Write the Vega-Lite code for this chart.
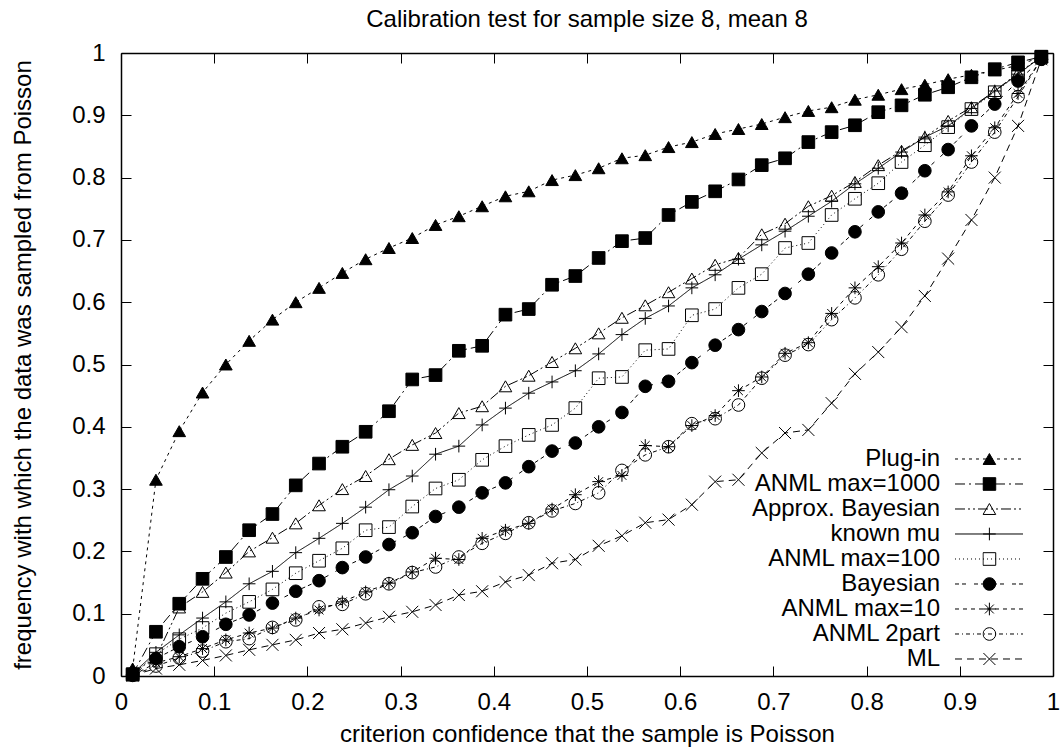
{
"$schema": "https://vega.github.io/schema/vega-lite/v6.json",
"width": 932, "height": 623,
"autosize": {"type": "none"},
"padding": {"left": 121, "top": 53, "right": 8, "bottom": 76},
"background": "white",
"title": {"text": "Calibration test for sample size 8, mean 8", "offset": 9, "frame": "group", "anchor": "middle", "fontSize": 24, "fontWeight": "normal", "font": "Liberation Sans", "color": "black"},
"config": {"view": {"stroke": null}, "font": "Liberation Sans"},
"data": {"values": [
{"series":"Plug-in","confidence":0.0125,"frequency":0.012},{"series":"Plug-in","confidence":0.0375,"frequency":0.315},{"series":"Plug-in","confidence":0.0625,"frequency":0.393},{"series":"Plug-in","confidence":0.0875,"frequency":0.455},{"series":"Plug-in","confidence":0.1125,"frequency":0.5},{"series":"Plug-in","confidence":0.1375,"frequency":0.538},{"series":"Plug-in","confidence":0.1625,"frequency":0.572},{"series":"Plug-in","confidence":0.1875,"frequency":0.6},{"series":"Plug-in","confidence":0.2125,"frequency":0.623},{"series":"Plug-in","confidence":0.2375,"frequency":0.647},{"series":"Plug-in","confidence":0.2625,"frequency":0.669},{"series":"Plug-in","confidence":0.2875,"frequency":0.687},{"series":"Plug-in","confidence":0.3125,"frequency":0.703},{"series":"Plug-in","confidence":0.3375,"frequency":0.724},{"series":"Plug-in","confidence":0.3625,"frequency":0.738},{"series":"Plug-in","confidence":0.3875,"frequency":0.754},{"series":"Plug-in","confidence":0.4125,"frequency":0.77},{"series":"Plug-in","confidence":0.4375,"frequency":0.778},{"series":"Plug-in","confidence":0.4625,"frequency":0.796},{"series":"Plug-in","confidence":0.4875,"frequency":0.804},{"series":"Plug-in","confidence":0.5125,"frequency":0.815},{"series":"Plug-in","confidence":0.5375,"frequency":0.831},{"series":"Plug-in","confidence":0.5625,"frequency":0.836},{"series":"Plug-in","confidence":0.5875,"frequency":0.849},{"series":"Plug-in","confidence":0.6125,"frequency":0.857},{"series":"Plug-in","confidence":0.6375,"frequency":0.87},{"series":"Plug-in","confidence":0.6625,"frequency":0.878},{"series":"Plug-in","confidence":0.6875,"frequency":0.886},{"series":"Plug-in","confidence":0.7125,"frequency":0.897},{"series":"Plug-in","confidence":0.7375,"frequency":0.907},{"series":"Plug-in","confidence":0.7625,"frequency":0.913},{"series":"Plug-in","confidence":0.7875,"frequency":0.925},{"series":"Plug-in","confidence":0.8125,"frequency":0.933},{"series":"Plug-in","confidence":0.8375,"frequency":0.942},{"series":"Plug-in","confidence":0.8625,"frequency":0.949},{"series":"Plug-in","confidence":0.8875,"frequency":0.958},{"series":"Plug-in","confidence":0.9125,"frequency":0.965},{"series":"Plug-in","confidence":0.9375,"frequency":0.972},{"series":"Plug-in","confidence":0.9625,"frequency":0.98},{"series":"Plug-in","confidence":0.9875,"frequency":0.994},
{"series":"ANML max=1000","confidence":0.0125,"frequency":0.003},{"series":"ANML max=1000","confidence":0.0375,"frequency":0.071},{"series":"ANML max=1000","confidence":0.0625,"frequency":0.116},{"series":"ANML max=1000","confidence":0.0875,"frequency":0.156},{"series":"ANML max=1000","confidence":0.1125,"frequency":0.191},{"series":"ANML max=1000","confidence":0.1375,"frequency":0.234},{"series":"ANML max=1000","confidence":0.1625,"frequency":0.26},{"series":"ANML max=1000","confidence":0.1875,"frequency":0.306},{"series":"ANML max=1000","confidence":0.2125,"frequency":0.341},{"series":"ANML max=1000","confidence":0.2375,"frequency":0.368},{"series":"ANML max=1000","confidence":0.2625,"frequency":0.392},{"series":"ANML max=1000","confidence":0.2875,"frequency":0.425},{"series":"ANML max=1000","confidence":0.3125,"frequency":0.476},{"series":"ANML max=1000","confidence":0.3375,"frequency":0.483},{"series":"ANML max=1000","confidence":0.3625,"frequency":0.522},{"series":"ANML max=1000","confidence":0.3875,"frequency":0.53},{"series":"ANML max=1000","confidence":0.4125,"frequency":0.58},{"series":"ANML max=1000","confidence":0.4375,"frequency":0.589},{"series":"ANML max=1000","confidence":0.4625,"frequency":0.628},{"series":"ANML max=1000","confidence":0.4875,"frequency":0.642},{"series":"ANML max=1000","confidence":0.5125,"frequency":0.671},{"series":"ANML max=1000","confidence":0.5375,"frequency":0.698},{"series":"ANML max=1000","confidence":0.5625,"frequency":0.703},{"series":"ANML max=1000","confidence":0.5875,"frequency":0.74},{"series":"ANML max=1000","confidence":0.6125,"frequency":0.761},{"series":"ANML max=1000","confidence":0.6375,"frequency":0.778},{"series":"ANML max=1000","confidence":0.6625,"frequency":0.797},{"series":"ANML max=1000","confidence":0.6875,"frequency":0.82},{"series":"ANML max=1000","confidence":0.7125,"frequency":0.831},{"series":"ANML max=1000","confidence":0.7375,"frequency":0.857},{"series":"ANML max=1000","confidence":0.7625,"frequency":0.873},{"series":"ANML max=1000","confidence":0.7875,"frequency":0.884},{"series":"ANML max=1000","confidence":0.8125,"frequency":0.905},{"series":"ANML max=1000","confidence":0.8375,"frequency":0.916},{"series":"ANML max=1000","confidence":0.8625,"frequency":0.933},{"series":"ANML max=1000","confidence":0.8875,"frequency":0.945},{"series":"ANML max=1000","confidence":0.9125,"frequency":0.961},{"series":"ANML max=1000","confidence":0.9375,"frequency":0.974},{"series":"ANML max=1000","confidence":0.9625,"frequency":0.985},{"series":"ANML max=1000","confidence":0.9875,"frequency":0.994},
{"series":"Approx. Bayesian","confidence":0.0125,"frequency":0.005},{"series":"Approx. Bayesian","confidence":0.0375,"frequency":0.03},{"series":"Approx. Bayesian","confidence":0.0625,"frequency":0.11},{"series":"Approx. Bayesian","confidence":0.0875,"frequency":0.135},{"series":"Approx. Bayesian","confidence":0.1125,"frequency":0.166},{"series":"Approx. Bayesian","confidence":0.1375,"frequency":0.2},{"series":"Approx. Bayesian","confidence":0.1625,"frequency":0.222},{"series":"Approx. Bayesian","confidence":0.1875,"frequency":0.245},{"series":"Approx. Bayesian","confidence":0.2125,"frequency":0.274},{"series":"Approx. Bayesian","confidence":0.2375,"frequency":0.3},{"series":"Approx. Bayesian","confidence":0.2625,"frequency":0.321},{"series":"Approx. Bayesian","confidence":0.2875,"frequency":0.348},{"series":"Approx. Bayesian","confidence":0.3125,"frequency":0.371},{"series":"Approx. Bayesian","confidence":0.3375,"frequency":0.39},{"series":"Approx. Bayesian","confidence":0.3625,"frequency":0.422},{"series":"Approx. Bayesian","confidence":0.3875,"frequency":0.433},{"series":"Approx. Bayesian","confidence":0.4125,"frequency":0.465},{"series":"Approx. Bayesian","confidence":0.4375,"frequency":0.482},{"series":"Approx. Bayesian","confidence":0.4625,"frequency":0.504},{"series":"Approx. Bayesian","confidence":0.4875,"frequency":0.526},{"series":"Approx. Bayesian","confidence":0.5125,"frequency":0.55},{"series":"Approx. Bayesian","confidence":0.5375,"frequency":0.575},{"series":"Approx. Bayesian","confidence":0.5625,"frequency":0.595},{"series":"Approx. Bayesian","confidence":0.5875,"frequency":0.616},{"series":"Approx. Bayesian","confidence":0.6125,"frequency":0.638},{"series":"Approx. Bayesian","confidence":0.6375,"frequency":0.66},{"series":"Approx. Bayesian","confidence":0.6625,"frequency":0.671},{"series":"Approx. Bayesian","confidence":0.6875,"frequency":0.709},{"series":"Approx. Bayesian","confidence":0.7125,"frequency":0.726},{"series":"Approx. Bayesian","confidence":0.7375,"frequency":0.754},{"series":"Approx. Bayesian","confidence":0.7625,"frequency":0.771},{"series":"Approx. Bayesian","confidence":0.7875,"frequency":0.793},{"series":"Approx. Bayesian","confidence":0.8125,"frequency":0.82},{"series":"Approx. Bayesian","confidence":0.8375,"frequency":0.843},{"series":"Approx. Bayesian","confidence":0.8625,"frequency":0.865},{"series":"Approx. Bayesian","confidence":0.8875,"frequency":0.891},{"series":"Approx. Bayesian","confidence":0.9125,"frequency":0.913},{"series":"Approx. Bayesian","confidence":0.9375,"frequency":0.939},{"series":"Approx. Bayesian","confidence":0.9625,"frequency":0.968},{"series":"Approx. Bayesian","confidence":0.9875,"frequency":0.994},
{"series":"known mu","confidence":0.0125,"frequency":0.004},{"series":"known mu","confidence":0.0375,"frequency":0.038},{"series":"known mu","confidence":0.0625,"frequency":0.066},{"series":"known mu","confidence":0.0875,"frequency":0.093},{"series":"known mu","confidence":0.1125,"frequency":0.119},{"series":"known mu","confidence":0.1375,"frequency":0.148},{"series":"known mu","confidence":0.1625,"frequency":0.168},{"series":"known mu","confidence":0.1875,"frequency":0.198},{"series":"known mu","confidence":0.2125,"frequency":0.221},{"series":"known mu","confidence":0.2375,"frequency":0.245},{"series":"known mu","confidence":0.2625,"frequency":0.271},{"series":"known mu","confidence":0.2875,"frequency":0.299},{"series":"known mu","confidence":0.3125,"frequency":0.321},{"series":"known mu","confidence":0.3375,"frequency":0.356},{"series":"known mu","confidence":0.3625,"frequency":0.369},{"series":"known mu","confidence":0.3875,"frequency":0.403},{"series":"known mu","confidence":0.4125,"frequency":0.43},{"series":"known mu","confidence":0.4375,"frequency":0.454},{"series":"known mu","confidence":0.4625,"frequency":0.472},{"series":"known mu","confidence":0.4875,"frequency":0.49},{"series":"known mu","confidence":0.5125,"frequency":0.517},{"series":"known mu","confidence":0.5375,"frequency":0.548},{"series":"known mu","confidence":0.5625,"frequency":0.574},{"series":"known mu","confidence":0.5875,"frequency":0.594},{"series":"known mu","confidence":0.6125,"frequency":0.623},{"series":"known mu","confidence":0.6375,"frequency":0.644},{"series":"known mu","confidence":0.6625,"frequency":0.669},{"series":"known mu","confidence":0.6875,"frequency":0.692},{"series":"known mu","confidence":0.7125,"frequency":0.714},{"series":"known mu","confidence":0.7375,"frequency":0.738},{"series":"known mu","confidence":0.7625,"frequency":0.762},{"series":"known mu","confidence":0.7875,"frequency":0.79},{"series":"known mu","confidence":0.8125,"frequency":0.815},{"series":"known mu","confidence":0.8375,"frequency":0.841},{"series":"known mu","confidence":0.8625,"frequency":0.865},{"series":"known mu","confidence":0.8875,"frequency":0.883},{"series":"known mu","confidence":0.9125,"frequency":0.911},{"series":"known mu","confidence":0.9375,"frequency":0.939},{"series":"known mu","confidence":0.9625,"frequency":0.966},{"series":"known mu","confidence":0.9875,"frequency":0.994},
{"series":"ANML max=100","confidence":0.0125,"frequency":0.002},{"series":"ANML max=100","confidence":0.0375,"frequency":0.035},{"series":"ANML max=100","confidence":0.0625,"frequency":0.059},{"series":"ANML max=100","confidence":0.0875,"frequency":0.077},{"series":"ANML max=100","confidence":0.1125,"frequency":0.101},{"series":"ANML max=100","confidence":0.1375,"frequency":0.119},{"series":"ANML max=100","confidence":0.1625,"frequency":0.139},{"series":"ANML max=100","confidence":0.1875,"frequency":0.165},{"series":"ANML max=100","confidence":0.2125,"frequency":0.185},{"series":"ANML max=100","confidence":0.2375,"frequency":0.205},{"series":"ANML max=100","confidence":0.2625,"frequency":0.234},{"series":"ANML max=100","confidence":0.2875,"frequency":0.239},{"series":"ANML max=100","confidence":0.3125,"frequency":0.272},{"series":"ANML max=100","confidence":0.3375,"frequency":0.301},{"series":"ANML max=100","confidence":0.3625,"frequency":0.315},{"series":"ANML max=100","confidence":0.3875,"frequency":0.347},{"series":"ANML max=100","confidence":0.4125,"frequency":0.369},{"series":"ANML max=100","confidence":0.4375,"frequency":0.387},{"series":"ANML max=100","confidence":0.4625,"frequency":0.403},{"series":"ANML max=100","confidence":0.4875,"frequency":0.43},{"series":"ANML max=100","confidence":0.5125,"frequency":0.478},{"series":"ANML max=100","confidence":0.5375,"frequency":0.48},{"series":"ANML max=100","confidence":0.5625,"frequency":0.523},{"series":"ANML max=100","confidence":0.5875,"frequency":0.525},{"series":"ANML max=100","confidence":0.6125,"frequency":0.579},{"series":"ANML max=100","confidence":0.6375,"frequency":0.589},{"series":"ANML max=100","confidence":0.6625,"frequency":0.623},{"series":"ANML max=100","confidence":0.6875,"frequency":0.645},{"series":"ANML max=100","confidence":0.7125,"frequency":0.687},{"series":"ANML max=100","confidence":0.7375,"frequency":0.695},{"series":"ANML max=100","confidence":0.7625,"frequency":0.74},{"series":"ANML max=100","confidence":0.7875,"frequency":0.766},{"series":"ANML max=100","confidence":0.8125,"frequency":0.791},{"series":"ANML max=100","confidence":0.8375,"frequency":0.825},{"series":"ANML max=100","confidence":0.8625,"frequency":0.852},{"series":"ANML max=100","confidence":0.8875,"frequency":0.881},{"series":"ANML max=100","confidence":0.9125,"frequency":0.91},{"series":"ANML max=100","confidence":0.9375,"frequency":0.937},{"series":"ANML max=100","confidence":0.9625,"frequency":0.966},{"series":"ANML max=100","confidence":0.9875,"frequency":0.994},
{"series":"Bayesian","confidence":0.0125,"frequency":0.002},{"series":"Bayesian","confidence":0.0375,"frequency":0.028},{"series":"Bayesian","confidence":0.0625,"frequency":0.047},{"series":"Bayesian","confidence":0.0875,"frequency":0.063},{"series":"Bayesian","confidence":0.1125,"frequency":0.083},{"series":"Bayesian","confidence":0.1375,"frequency":0.098},{"series":"Bayesian","confidence":0.1625,"frequency":0.117},{"series":"Bayesian","confidence":0.1875,"frequency":0.136},{"series":"Bayesian","confidence":0.2125,"frequency":0.153},{"series":"Bayesian","confidence":0.2375,"frequency":0.174},{"series":"Bayesian","confidence":0.2625,"frequency":0.191},{"series":"Bayesian","confidence":0.2875,"frequency":0.211},{"series":"Bayesian","confidence":0.3125,"frequency":0.23},{"series":"Bayesian","confidence":0.3375,"frequency":0.256},{"series":"Bayesian","confidence":0.3625,"frequency":0.271},{"series":"Bayesian","confidence":0.3875,"frequency":0.294},{"series":"Bayesian","confidence":0.4125,"frequency":0.31},{"series":"Bayesian","confidence":0.4375,"frequency":0.336},{"series":"Bayesian","confidence":0.4625,"frequency":0.361},{"series":"Bayesian","confidence":0.4875,"frequency":0.374},{"series":"Bayesian","confidence":0.5125,"frequency":0.4},{"series":"Bayesian","confidence":0.5375,"frequency":0.423},{"series":"Bayesian","confidence":0.5625,"frequency":0.465},{"series":"Bayesian","confidence":0.5875,"frequency":0.473},{"series":"Bayesian","confidence":0.6125,"frequency":0.503},{"series":"Bayesian","confidence":0.6375,"frequency":0.531},{"series":"Bayesian","confidence":0.6625,"frequency":0.556},{"series":"Bayesian","confidence":0.6875,"frequency":0.585},{"series":"Bayesian","confidence":0.7125,"frequency":0.614},{"series":"Bayesian","confidence":0.7375,"frequency":0.645},{"series":"Bayesian","confidence":0.7625,"frequency":0.679},{"series":"Bayesian","confidence":0.7875,"frequency":0.713},{"series":"Bayesian","confidence":0.8125,"frequency":0.745},{"series":"Bayesian","confidence":0.8375,"frequency":0.775},{"series":"Bayesian","confidence":0.8625,"frequency":0.811},{"series":"Bayesian","confidence":0.8875,"frequency":0.845},{"series":"Bayesian","confidence":0.9125,"frequency":0.883},{"series":"Bayesian","confidence":0.9375,"frequency":0.918},{"series":"Bayesian","confidence":0.9625,"frequency":0.955},{"series":"Bayesian","confidence":0.9875,"frequency":0.99},
{"series":"ANML max=10","confidence":0.0125,"frequency":0.001},{"series":"ANML max=10","confidence":0.0375,"frequency":0.021},{"series":"ANML max=10","confidence":0.0625,"frequency":0.031},{"series":"ANML max=10","confidence":0.0875,"frequency":0.044},{"series":"ANML max=10","confidence":0.1125,"frequency":0.058},{"series":"ANML max=10","confidence":0.1375,"frequency":0.069},{"series":"ANML max=10","confidence":0.1625,"frequency":0.077},{"series":"ANML max=10","confidence":0.1875,"frequency":0.093},{"series":"ANML max=10","confidence":0.2125,"frequency":0.106},{"series":"ANML max=10","confidence":0.2375,"frequency":0.119},{"series":"ANML max=10","confidence":0.2625,"frequency":0.135},{"series":"ANML max=10","confidence":0.2875,"frequency":0.149},{"series":"ANML max=10","confidence":0.3125,"frequency":0.167},{"series":"ANML max=10","confidence":0.3375,"frequency":0.189},{"series":"ANML max=10","confidence":0.3625,"frequency":0.187},{"series":"ANML max=10","confidence":0.3875,"frequency":0.221},{"series":"ANML max=10","confidence":0.4125,"frequency":0.234},{"series":"ANML max=10","confidence":0.4375,"frequency":0.245},{"series":"ANML max=10","confidence":0.4625,"frequency":0.268},{"series":"ANML max=10","confidence":0.4875,"frequency":0.291},{"series":"ANML max=10","confidence":0.5125,"frequency":0.312},{"series":"ANML max=10","confidence":0.5375,"frequency":0.322},{"series":"ANML max=10","confidence":0.5625,"frequency":0.37},{"series":"ANML max=10","confidence":0.5875,"frequency":0.368},{"series":"ANML max=10","confidence":0.6125,"frequency":0.402},{"series":"ANML max=10","confidence":0.6375,"frequency":0.418},{"series":"ANML max=10","confidence":0.6625,"frequency":0.458},{"series":"ANML max=10","confidence":0.6875,"frequency":0.48},{"series":"ANML max=10","confidence":0.7125,"frequency":0.518},{"series":"ANML max=10","confidence":0.7375,"frequency":0.535},{"series":"ANML max=10","confidence":0.7625,"frequency":0.582},{"series":"ANML max=10","confidence":0.7875,"frequency":0.623},{"series":"ANML max=10","confidence":0.8125,"frequency":0.657},{"series":"ANML max=10","confidence":0.8375,"frequency":0.695},{"series":"ANML max=10","confidence":0.8625,"frequency":0.74},{"series":"ANML max=10","confidence":0.8875,"frequency":0.777},{"series":"ANML max=10","confidence":0.9125,"frequency":0.835},{"series":"ANML max=10","confidence":0.9375,"frequency":0.88},{"series":"ANML max=10","confidence":0.9625,"frequency":0.935},{"series":"ANML max=10","confidence":0.9875,"frequency":0.99},
{"series":"ANML 2part","confidence":0.0125,"frequency":0.001},{"series":"ANML 2part","confidence":0.0375,"frequency":0.016},{"series":"ANML 2part","confidence":0.0625,"frequency":0.029},{"series":"ANML 2part","confidence":0.0875,"frequency":0.04},{"series":"ANML 2part","confidence":0.1125,"frequency":0.055},{"series":"ANML 2part","confidence":0.1375,"frequency":0.06},{"series":"ANML 2part","confidence":0.1625,"frequency":0.078},{"series":"ANML 2part","confidence":0.1875,"frequency":0.09},{"series":"ANML 2part","confidence":0.2125,"frequency":0.111},{"series":"ANML 2part","confidence":0.2375,"frequency":0.115},{"series":"ANML 2part","confidence":0.2625,"frequency":0.132},{"series":"ANML 2part","confidence":0.2875,"frequency":0.148},{"series":"ANML 2part","confidence":0.3125,"frequency":0.166},{"series":"ANML 2part","confidence":0.3375,"frequency":0.175},{"series":"ANML 2part","confidence":0.3625,"frequency":0.191},{"series":"ANML 2part","confidence":0.3875,"frequency":0.213},{"series":"ANML 2part","confidence":0.4125,"frequency":0.229},{"series":"ANML 2part","confidence":0.4375,"frequency":0.246},{"series":"ANML 2part","confidence":0.4625,"frequency":0.265},{"series":"ANML 2part","confidence":0.4875,"frequency":0.277},{"series":"ANML 2part","confidence":0.5125,"frequency":0.294},{"series":"ANML 2part","confidence":0.5375,"frequency":0.33},{"series":"ANML 2part","confidence":0.5625,"frequency":0.355},{"series":"ANML 2part","confidence":0.5875,"frequency":0.368},{"series":"ANML 2part","confidence":0.6125,"frequency":0.405},{"series":"ANML 2part","confidence":0.6375,"frequency":0.413},{"series":"ANML 2part","confidence":0.6625,"frequency":0.435},{"series":"ANML 2part","confidence":0.6875,"frequency":0.478},{"series":"ANML 2part","confidence":0.7125,"frequency":0.515},{"series":"ANML 2part","confidence":0.7375,"frequency":0.532},{"series":"ANML 2part","confidence":0.7625,"frequency":0.572},{"series":"ANML 2part","confidence":0.7875,"frequency":0.607},{"series":"ANML 2part","confidence":0.8125,"frequency":0.644},{"series":"ANML 2part","confidence":0.8375,"frequency":0.685},{"series":"ANML 2part","confidence":0.8625,"frequency":0.73},{"series":"ANML 2part","confidence":0.8875,"frequency":0.772},{"series":"ANML 2part","confidence":0.9125,"frequency":0.825},{"series":"ANML 2part","confidence":0.9375,"frequency":0.873},{"series":"ANML 2part","confidence":0.9625,"frequency":0.93},{"series":"ANML 2part","confidence":0.9875,"frequency":0.99},
{"series":"ML","confidence":0.0125,"frequency":0.001},{"series":"ML","confidence":0.0375,"frequency":0.012},{"series":"ML","confidence":0.0625,"frequency":0.018},{"series":"ML","confidence":0.0875,"frequency":0.025},{"series":"ML","confidence":0.1125,"frequency":0.033},{"series":"ML","confidence":0.1375,"frequency":0.042},{"series":"ML","confidence":0.1625,"frequency":0.05},{"series":"ML","confidence":0.1875,"frequency":0.058},{"series":"ML","confidence":0.2125,"frequency":0.069},{"series":"ML","confidence":0.2375,"frequency":0.075},{"series":"ML","confidence":0.2625,"frequency":0.085},{"series":"ML","confidence":0.2875,"frequency":0.095},{"series":"ML","confidence":0.3125,"frequency":0.103},{"series":"ML","confidence":0.3375,"frequency":0.114},{"series":"ML","confidence":0.3625,"frequency":0.13},{"series":"ML","confidence":0.3875,"frequency":0.136},{"series":"ML","confidence":0.4125,"frequency":0.151},{"series":"ML","confidence":0.4375,"frequency":0.162},{"series":"ML","confidence":0.4625,"frequency":0.181},{"series":"ML","confidence":0.4875,"frequency":0.187},{"series":"ML","confidence":0.5125,"frequency":0.209},{"series":"ML","confidence":0.5375,"frequency":0.225},{"series":"ML","confidence":0.5625,"frequency":0.246},{"series":"ML","confidence":0.5875,"frequency":0.251},{"series":"ML","confidence":0.6125,"frequency":0.275},{"series":"ML","confidence":0.6375,"frequency":0.312},{"series":"ML","confidence":0.6625,"frequency":0.315},{"series":"ML","confidence":0.6875,"frequency":0.358},{"series":"ML","confidence":0.7125,"frequency":0.39},{"series":"ML","confidence":0.7375,"frequency":0.395},{"series":"ML","confidence":0.7625,"frequency":0.438},{"series":"ML","confidence":0.7875,"frequency":0.485},{"series":"ML","confidence":0.8125,"frequency":0.52},{"series":"ML","confidence":0.8375,"frequency":0.56},{"series":"ML","confidence":0.8625,"frequency":0.61},{"series":"ML","confidence":0.8875,"frequency":0.67},{"series":"ML","confidence":0.9125,"frequency":0.732},{"series":"ML","confidence":0.9375,"frequency":0.8},{"series":"ML","confidence":0.9625,"frequency":0.883},{"series":"ML","confidence":0.9875,"frequency":0.99}
]},
"layer": [
{
"mark": {"type": "line", "stroke": "black", "strokeWidth": 1},
"encoding": {
"x": {"field": "confidence", "type": "quantitative", "scale": {"domain": [0, 1], "nice": false},
 "axis": {"orient": "top", "labels": false, "title": null, "values": [0,0.1,0.2,0.3,0.4,0.5,0.6,0.7,0.8,0.9,1], "tickSize": -10, "tickColor": "black", "domainColor": "black", "domainWidth": 1.5, "grid": false}},
"y": {"field": "frequency", "type": "quantitative", "scale": {"domain": [0, 1], "nice": false},
 "axis": {"orient": "right", "labels": false, "title": null, "values": [0,0.1,0.2,0.3,0.4,0.5,0.6,0.7,0.8,0.9,1], "tickSize": -10, "tickColor": "black", "domainColor": "black", "domainWidth": 1.5, "grid": false}},
"strokeDash": {"field": "series", "type": "nominal",
 "scale": {"domain": ["Plug-in","ANML max=1000","Approx. Bayesian","known mu","ANML max=100","Bayesian","ANML max=10","ANML 2part","ML"],
  "range": [[3,4],[10,4,2,4],[10,3,2,3,2,3],[1,0],[1,3],[4,3,4,8],[4,4],[4,3,1,3],[7,5]]},
 "legend": {"orient": "none", "legendX": 833.5, "legendY": 393.8, "title": null, "symbolType": "M-1,0L1,0", "symbolSize": 4624, "symbolStrokeWidth": 1, "clipHeight": 24.4, "rowPadding": 0, "padding": 0, "labelExpr": "''", "labelOffset": 0}},
"color": {"field": "series", "type": "nominal", "sort": {"field": "frequency", "op": "mean", "order": "descending"},
 "scale": {"range": ["black", "black", "black", "black", "black", "black", "black", "black", "black"]},
 "legend": {"orient": "none", "legendX": 833.5, "legendY": 393.8, "title": null, "symbolType": "M-1,0L1,0", "symbolSize": 4624, "symbolStrokeWidth": 1, "clipHeight": 24.4, "rowPadding": 0, "padding": 0, "labelAlign": "right", "labelBaseline": "middle", "labelOffset": -83.5, "labelFontSize": 24, "labelFont": "Liberation Sans", "labelColor": "black", "labelLimit": 400}}
}
},
{
"mark": {"type": "point", "stroke": "black", "strokeWidth": 1, "opacity": 1, "size": 160},
"encoding": {
"x": {"field": "confidence", "type": "quantitative", "scale": {"domain": [0, 1], "nice": false},
 "axis": {"orient": "bottom", "title": "criterion confidence that the sample is Poisson", "values": [0,0.1,0.2,0.3,0.4,0.5,0.6,0.7,0.8,0.9,1], "format": ".1~f", "tickSize": -10, "tickColor": "black", "domainColor": "black", "domainWidth": 1.5, "grid": false, "labelPadding": 24, "labelFontSize": 24, "labelColor": "black", "labelFlush": false, "labelFont": "Liberation Sans", "titleFont": "Liberation Sans", "titleFontSize": 24, "titleFontWeight": "normal", "titleColor": "black", "titlePadding": 8}},
"y": {"field": "frequency", "type": "quantitative", "scale": {"domain": [0, 1], "nice": false},
 "axis": {"orient": "left", "title": "frequency with which the data was sampled from Poisson", "values": [0,0.1,0.2,0.3,0.4,0.5,0.6,0.7,0.8,0.9,1], "format": ".1~f", "tickSize": -10, "tickColor": "black", "domainColor": "black", "domainWidth": 1.5, "grid": false, "labelPadding": 26, "labelFontSize": 24, "labelColor": "black", "labelFlush": false, "labelFont": "Liberation Sans", "titleFont": "Liberation Sans", "titleFontSize": 24, "titleFontWeight": "normal", "titleColor": "black", "titlePadding": 36}},
"shape": {"field": "series", "type": "nominal", "sort": null,
 "scale": {"range": ["triangle-up", "square", "triangle-up", "M-1,0L1,0M0,-1L0,1", "square", "circle", "M-1,0L1,0M0,-1L0,1M-0.7,-0.7L0.7,0.7M-0.7,0.7L0.7,-0.7", "circle", "M-0.95,-0.95L0.95,0.95M-0.95,0.95L0.95,-0.95"]},
 "legend": {"orient": "none", "legendX": 861.4, "legendY": 393.8, "title": null, "labelExpr": "''", "symbolSize": 160, "symbolStrokeWidth": 1, "clipHeight": 24.4, "rowPadding": 0, "padding": 0}},
"fill": {"field": "series", "type": "nominal", "sort": null,
 "scale": {"range": ["black", "black", "transparent", "transparent", "transparent", "black", "transparent", "transparent", "transparent"]},
 "legend": {"orient": "none", "legendX": 861.4, "legendY": 393.8, "title": null, "labelExpr": "''", "symbolSize": 160, "symbolStrokeWidth": 1, "clipHeight": 24.4, "rowPadding": 0, "padding": 0}}
}
}
],
"resolve": {"axis": {"x": "independent", "y": "independent"}}
}
